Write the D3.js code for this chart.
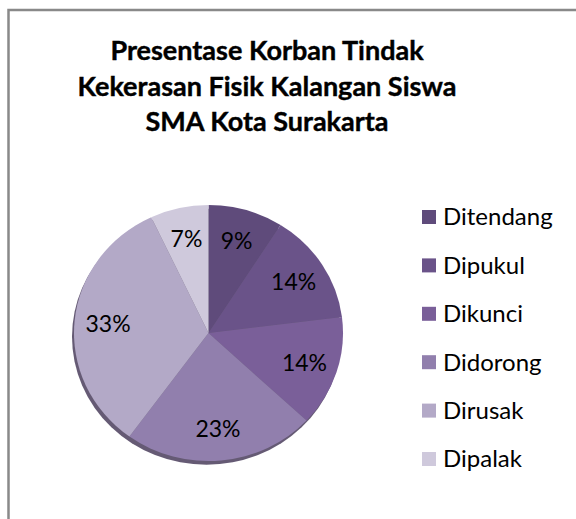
<!DOCTYPE html>
<html>
<head>
<meta charset="utf-8">
<script src="https://cdn.jsdelivr.net/npm/d3@7"></script>
<style>
  body { margin: 0; background: #fff; }
  svg { display: block; }
</style>
</head>
<body>
<div class="container"></div>
<script>
// Size of frame
const width = 576;
const height = 519;

// Chart data
const titleLines = ['Presentase Korban Tindak', 'Kekerasan Fisik Kalangan Siswa', 'SMA Kota Surakarta'];
const categories = ['Ditendang', 'Dipukul', 'Dikunci', 'Didorong', 'Dirusak', 'Dipalak'];
const percents = [9, 14, 14, 23, 33, 7];
const colors = ['#5f4b7b', '#6a5389', '#7a5f99', '#917fad', '#b3a9c7', '#cfc9dc'];

// Pie geometry
const cx = 208.5;
const cy = 333;
const rx = 134.5;
const ry = 128;
const labelRadius = 0.75;

const font = 'Lato, "Open Sans", sans-serif';

const svg = d3.select('.container')
  .append('svg')
  .attr('width', width)
  .attr('height', height);

// chart frame (only left and top edges visible)
svg.append('rect')
  .attr('x', 8.5)
  .attr('y', 10)
  .attr('width', 600)
  .attr('height', 560)
  .attr('fill', '#fff')
  .attr('stroke', '#898989')
  .attr('stroke-width', 2.5);

// title
const title = svg.append('text')
  .attr('text-anchor', 'middle')
  .attr('font-family', font)
  .attr('font-weight', 'bold')
  .attr('font-size', 27)
  .attr('fill', '#000')
  .attr('stroke', '#000')
  .attr('stroke-width', 0.4);
titleLines.forEach((line, i) => {
  title.append('tspan')
    .attr('x', 267)
    .attr('y', 60 + i * 35.5)
    .text(line);
});

const pie = d3.pie().sort(null).value(d => d);
const arcs = pie(percents);
const arc = d3.arc().innerRadius(0).outerRadius(rx);
const labelArc = d3.arc().innerRadius(rx * labelRadius).outerRadius(rx * labelRadius);

const g = svg.append('g')
  .attr('transform', `translate(${cx},${cy}) scale(1,${ry / rx})`);

// soft shadow under the pie
g.append('ellipse')
  .attr('cx', -2)
  .attr('cy', 4)
  .attr('rx', rx)
  .attr('ry', rx)
  .attr('fill', '#4a3d5c')
  .attr('opacity', 0.85);

g.selectAll('.slice')
  .data(arcs)
  .enter()
  .append('path')
  .attr('class', 'slice')
  .attr('d', arc)
  .attr('fill', (d, i) => colors[i]);

// percent labels
svg.selectAll('.pct')
  .data(arcs)
  .enter()
  .append('text')
  .attr('class', 'pct')
  .attr('x', d => cx + labelArc.centroid(d)[0])
  .attr('y', d => cy + labelArc.centroid(d)[1] * ry / rx)
  .attr('dy', '0.35em')
  .attr('text-anchor', 'middle')
  .attr('font-family', font)
  .attr('font-size', 23)
  .attr('fill', '#000')
  .text(d => d.data + '%');

// legend
const legendY = d3.scalePoint()
  .domain(categories)
  .range([217, 459]);

const legend = svg.selectAll('.legend')
  .data(categories)
  .enter()
  .append('g')
  .attr('class', 'legend')
  .attr('transform', d => `translate(422,${legendY(d)})`);

legend.append('rect')
  .attr('x', 0)
  .attr('y', -7)
  .attr('width', 14)
  .attr('height', 14)
  .attr('fill', (d, i) => colors[i]);

legend.append('text')
  .attr('x', 21)
  .attr('dy', '0.35em')
  .attr('font-family', font)
  .attr('font-size', 24)
  .attr('fill', '#000')
  .text(d => d);
</script>
</body>
</html>
